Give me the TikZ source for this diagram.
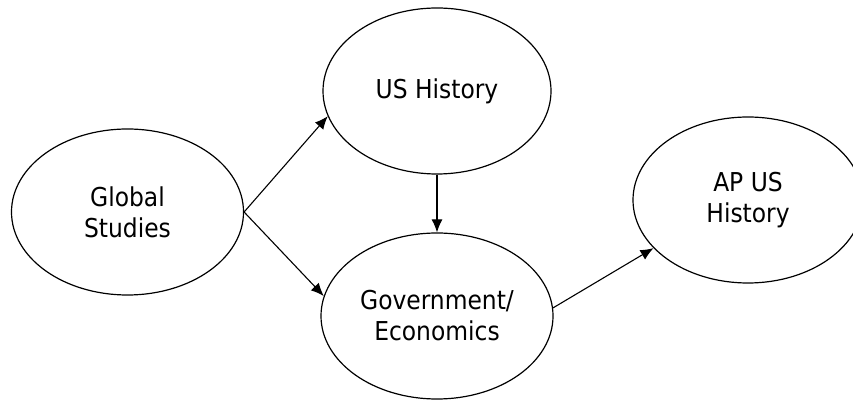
\documentclass[tikz,border=0pt]{standalone}
\usepackage{fontspec}
\setmainfont{DejaVu Sans Condensed}
\usepackage{tikz}
\usetikzlibrary{shapes.geometric,arrows.meta}

\begin{document}
\begin{tikzpicture}[x=1pt, y=1pt,
     course/.style={draw, ellipse, line width=1.2pt, inner sep=0pt,
       minimum width=232pt, minimum height=166pt, align=center,
       font=\fontsize{26}{31}\selectfont},
     link/.style={-{Latex[length=13pt,width=11pt]}, line width=1.1pt}]
     \useasboundingbox (0, 0) rectangle (853, 404);

     \node[course] (global) at (127.5, 192) {Global\\Studies};
     \node[course, minimum width=228pt] (ushist) at (437, 313) {US History};
     \node[course] (gov) at (437, 88) {Government/\\Economics};
     \node[course, minimum width=230pt] (apush) at (748, 204) {AP US\\History};

     \draw[link] (global.east) -- (ushist.193);
     \draw[link] (global.east) -- (gov.170);
     \draw[link] (ushist.south) -- (gov.north);
     \draw[link] (gov.4) -- (apush.207);
\end{tikzpicture}
\end{document}
